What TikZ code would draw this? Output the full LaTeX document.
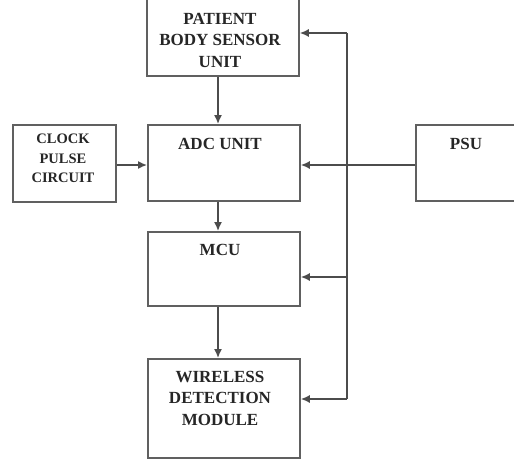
\documentclass[tikz,border=0pt]{standalone}
\usepackage{fontspec}
\setmainfont{Liberation Serif}
\usetikzlibrary{arrows.meta}
\begin{document}
\begin{tikzpicture}[x=1pt,y=-1pt,
  box/.style={draw=gray!75!black, line width=1.8pt, fill=white, rectangle, inner sep=0pt, anchor=north west},
  txt/.style={font=\bfseries\fontsize{17}{21.5}\selectfont, align=center, anchor=north, inner sep=0pt, text=black!85},
  conn/.style={draw=black!70, line width=1.5pt},
  arr/.style={conn, -{Latex[length=9pt,width=8pt]}}]
\useasboundingbox (0,0) rectangle (514,460);
\clip (0,0) rectangle (514,460);
\node[box, minimum width=152pt, minimum height=90pt] (patient) at (146,-15) {};
\node[box, minimum width=152pt, minimum height=76pt] (adc) at (147,124) {};
\node[box, minimum width=103pt, minimum height=77pt] (clock) at (12,124) {};
\node[box, minimum width=110pt, minimum height=76pt] (psu) at (415,124) {};
\node[box, minimum width=152pt, minimum height=74pt] (mcu) at (147,231) {};
\node[box, minimum width=152pt, minimum height=99pt] (wdm) at (147,358) {};
\node[txt] (tpatient) at (220,13) {PATIENT\\BODY SENSOR\\UNIT};
\node[txt] (tadc) at (220,138) {ADC UNIT};
\node[txt, font=\bfseries\fontsize{14.5}{19.5}\selectfont] (tclock) at (63,134) {CLOCK\\PULSE\\CIRCUIT};
\node[txt] (tpsu) at (466,138) {PSU};
\node[txt] (tmcu) at (220,244) {MCU};
\node[txt] (twdm) at (220,371) {WIRELESS\\DETECTION\\MODULE};
\coordinate (bustop) at (347,33);
\coordinate (busbot) at (347,399);
\coordinate (busmcu) at (347,277);
\coordinate (psuin) at (415,165);
\coordinate (mid) at (218,0);
\draw[conn] (bustop) -- (busbot);
\draw[arr] (bustop) -- (patient.east |- bustop);
\draw[arr] (busmcu) -- (mcu.east |- busmcu);
\draw[arr] (busbot) -- (wdm.east |- busbot);
\draw[arr] (psuin) -- (adc.east |- psuin);
\draw[arr] (clock.east |- psuin) -- (adc.west |- psuin);
\draw[arr] (mid |- patient.south) -- (mid |- adc.north);
\draw[arr] (mid |- adc.south) -- (mid |- mcu.north);
\draw[arr] (mid |- mcu.south) -- (mid |- wdm.north);
\end{tikzpicture}
\end{document}
